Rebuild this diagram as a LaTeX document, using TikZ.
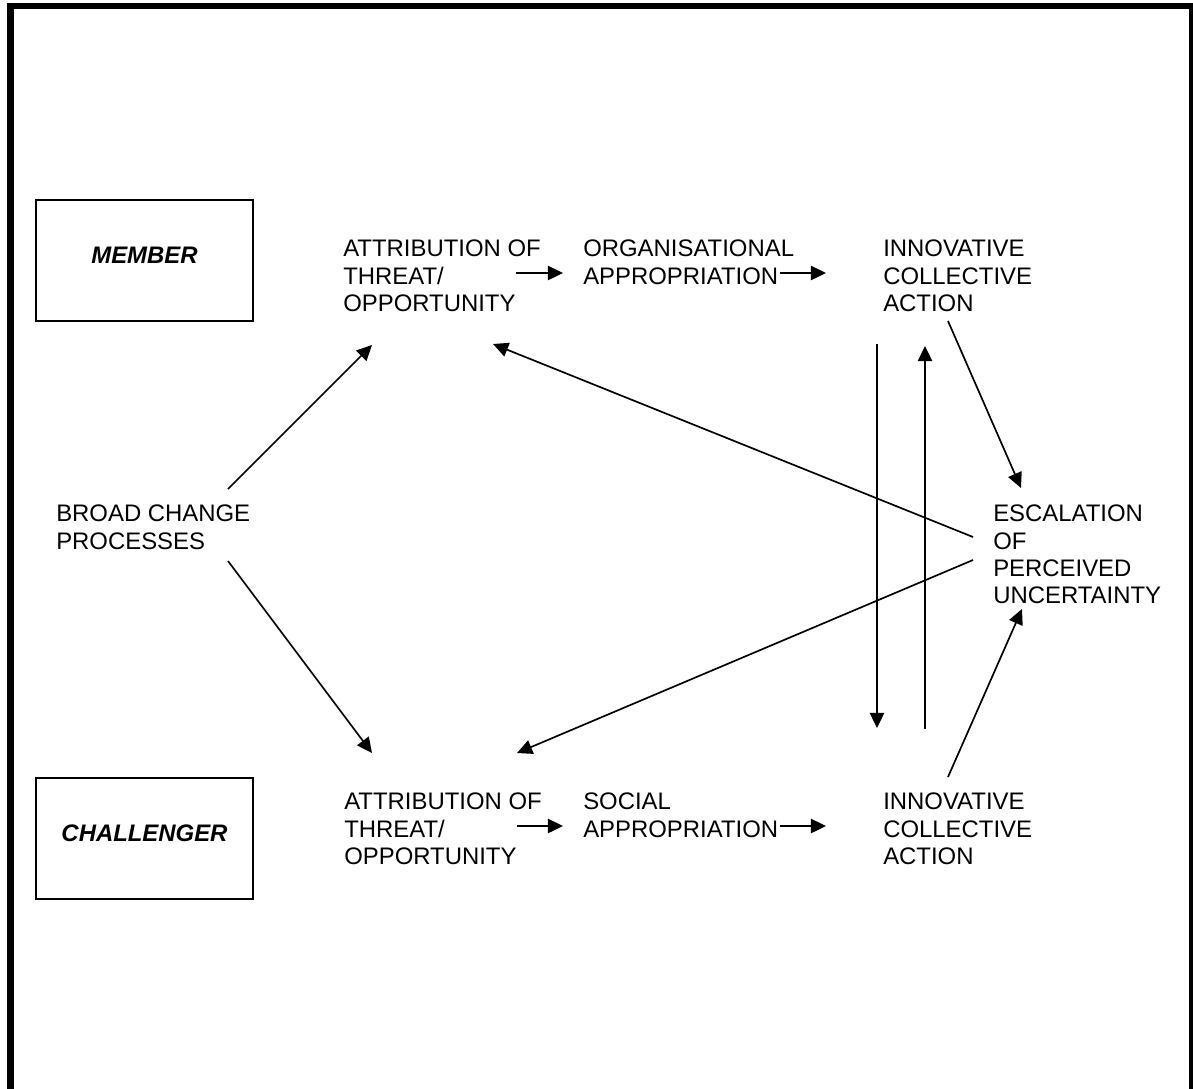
\documentclass[tikz,border=0pt]{standalone}
\usepackage{fontspec}
\setmainfont{Liberation Sans}
\usetikzlibrary{arrows.meta,calc}

\begin{document}
\begin{tikzpicture}[x=0.025cm,y=-0.025cm,
    lbl/.style={anchor=north west,inner sep=0pt,align=left,font=\fontsize{17}{19.4}\selectfont},
    actor/.style={draw,line width=1.3pt,minimum width=5.425cm,minimum height=3.025cm,
        text depth=0.25cm,font=\fontsize{17}{19.4}\selectfont\bfseries\itshape},
    arr/.style={-{Triangle[length=0.38cm,width=0.36cm]},line width=1.2pt}]
    \useasboundingbox (0,0) rectangle (1193,1088);
    \clip (0,0) rectangle (1193,1088);
    % frame, open at the bottom
    \draw[line width=0.15cm] (10.5,1100) -- (10.5,6) -- (1191.5,6) -- (1191.5,1100);
    % actors
    \node[actor] (member) at (144.5,260.5) {MEMBER};
    \node[actor] (challenger) at (144.5,838.5) {CHALLENGER};
    % labels
    \node[lbl] (broad) at (56,505) {BROAD CHANGE\\PROCESSES};
    \node[lbl] (attrm) at (343,240) {ATTRIBUTION OF\\THREAT/\\OPPORTUNITY};
    \node[lbl] (orgm) at (583,240) {ORGANISATIONAL\\APPROPRIATION};
    \node[lbl] (innm) at (883,240) {INNOVATIVE\\COLLECTIVE\\ACTION};
    \node[lbl] (esc) at (993,505) {ESCALATION\\OF\\PERCEIVED\\UNCERTAINTY};
    \node[lbl] (attrs) at (344,793) {ATTRIBUTION OF\\THREAT/\\OPPORTUNITY};
    \node[lbl] (socs) at (583,793) {SOCIAL\\APPROPRIATION};
    \node[lbl] (inns) at (883,793) {INNOVATIVE\\COLLECTIVE\\ACTION};
    % member row
    \draw[arr] ($(attrm.north west)+(173,33)$) -- ($(orgm.north west)+(-20,33)$);
    \draw[arr] ($(orgm.north west)+(197,33)$) -- ($(innm.north west)+(-57,33)$);
    % challenger row
    \draw[arr] ($(attrs.north west)+(173,33)$) -- ($(socs.north west)+(-20,33)$);
    \draw[arr] ($(socs.north west)+(197,33)$) -- ($(inns.north west)+(-57,33)$);
    % from broad change
    \draw[arr] ($(broad.north west)+(172,-16)$) -- ($(attrm.north west)+(29,105)$);
    \draw[arr] ($(broad.north west)+(172,56)$) -- ($(attrs.north west)+(28,-40)$);
    % between the two actions
    \draw[arr] ($(innm.north west)+(-6,104)$) -- ($(inns.north west)+(-6,-65)$);
    \draw[arr] ($(inns.north west)+(42,-64)$) -- ($(innm.north west)+(42,106)$);
    % to and from escalation
    \draw[arr] ($(innm.north west)+(65,81)$) -- ($(esc.north west)+(28,-17)$);
    \draw[arr] ($(inns.north west)+(65,-16)$) -- ($(esc.north west)+(29,104)$);
    \draw[arr] ($(esc.north west)+(-20,32)$) -- ($(attrm.north west)+(150,104)$);
    \draw[arr] ($(esc.north west)+(-20,55)$) -- ($(attrs.north west)+(173,-40)$);
\end{tikzpicture}
\end{document}
